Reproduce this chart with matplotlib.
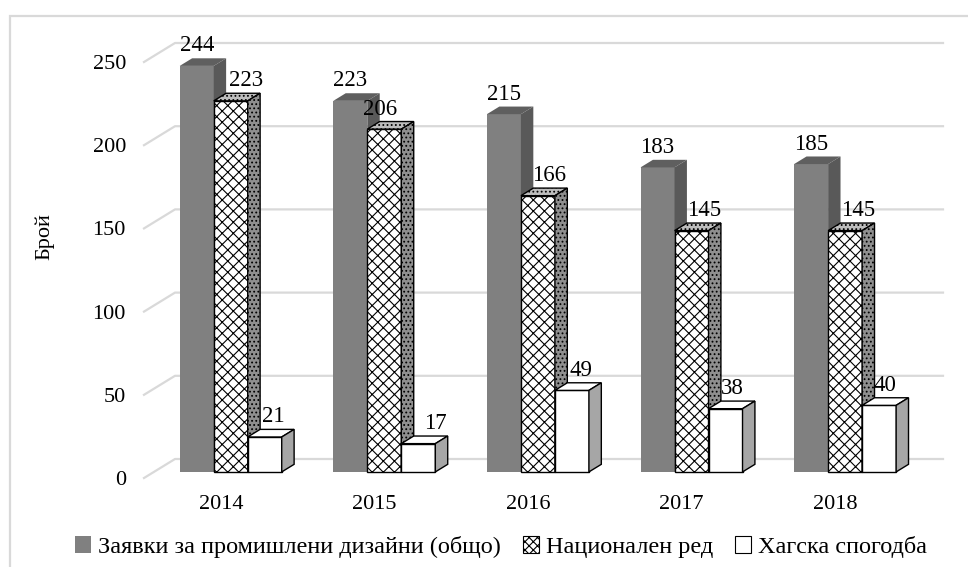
import matplotlib
matplotlib.use("Agg")
import matplotlib.pyplot as plt
from matplotlib.patches import Patch, Polygon, Rectangle
import numpy as np

years = ["2014", "2015", "2016", "2017", "2018"]
total = [244, 223, 215, 183, 185]
national = [223, 206, 166, 145, 145]
hague = [21, 17, 49, 38, 40]
series_names = [
    "Заявки за промишлени дизайни (общо)",
    "Национален ред",
    "Хагска спогодба",
]
y_ticks = [0, 50, 100, 150, 200, 250]

# label nudges in pixels (hand placed in the original)
label_dx = [
    [0, 0, 0, 0, 0],
    [15, -4, 11, 13, 13],
    [9, 17, 9, 7, 6],
]

FONT = "Liberation Serif"
W, H = 968, 567
PX_PER_CAT = 153.6
PX_PER_UNIT = 1.664

# oblique depth of the walls, in data units
WALL_DX = 31 / PX_PER_CAT
WALL_DY = 19 / PX_PER_UNIT
F0, FD = 0.32, 0.40  # bar front depth, bar thickness (fraction of wall)
BAR_W = 34 / PX_PER_CAT

styles = [
    dict(front="#808080", top="#5f5f5f", side="#595959", edge="none", hatch=None, side_hatch=None),
    dict(front="white", top="#bdbdbd", side="#8f8f8f", edge="black", hatch="xxx", side_hatch="...."),
    dict(front="white", top="white", side="#a6a6a6", edge="black", hatch=None, side_hatch=None),
]

plt.rcParams["font.family"] = [FONT, "DejaVu Sans"]
plt.rcParams["hatch.linewidth"] = 0.8

fig = plt.figure(figsize=(W / 100, H / 100), dpi=100)
ax = fig.add_axes([144 / W, 1 - 478 / H, 768 / W, 416 / H])
ax.set_xlim(-0.5, 4.5)
ax.set_ylim(0, 250)
for s in ax.spines.values():
    s.set_visible(False)

# 3d gridlines: diagonal on the left wall, horizontal on the back wall
for v in y_ticks:
    ax.plot([-0.5, -0.5 + WALL_DX, 4.5 + WALL_DX], [v, v + WALL_DY, v + WALL_DY],
            color="#d9d9d9", lw=1.6, zorder=0, clip_on=False)

x = np.arange(len(years))
base = F0 * WALL_DY
ddx, ddy = FD * WALL_DX, FD * WALL_DY
group_left = x - 1.5 * BAR_W + F0 * WALL_DX

z = 2
for k, (vals, st) in enumerate(zip([total, national, hague], styles)):
    lefts = group_left + k * BAR_W
    for i, v in enumerate(vals):
        l, r = lefts[i], lefts[i] + BAR_W
        t = v + base
        lw = 1.0 if st["edge"] != "none" else 0
        ax.bar(l, v, width=BAR_W, bottom=base, align="edge", color=st["front"],
               edgecolor=st["edge"], hatch=st["hatch"], lw=lw, zorder=z, clip_on=False)
        top = Polygon([(l, t), (r, t), (r + ddx, t + ddy), (l + ddx, t + ddy)],
                      facecolor=st["top"], edgecolor=st["edge"], hatch=st["side_hatch"],
                      lw=lw, zorder=z, clip_on=False)
        side = Polygon([(r, base), (r + ddx, base + ddy), (r + ddx, t + ddy), (r, t)],
                       facecolor=st["side"], edgecolor=st["edge"], hatch=st["side_hatch"],
                       lw=lw, zorder=z, clip_on=False)
        ax.add_patch(top)
        ax.add_patch(side)
        ax.text(l + BAR_W / 2 + label_dx[k][i] / PX_PER_CAT, t + 20 / PX_PER_UNIT, str(v),
                ha="center", va="center", fontsize=16.5, zorder=100)
        z += 1

ax.set_yticks(y_ticks)
ax.set_xticks(x)
ax.set_xticklabels(years)
ax.tick_params(axis="y", length=0, pad=13, labelsize=16)
ax.tick_params(axis="x", length=0, pad=12, labelsize=16)

fig.text(45 / W, 1 - 237 / H, "Брой", rotation=90, ha="center", va="center", fontsize=16)

handles = [
    Patch(facecolor="#808080", edgecolor="none"),
    Patch(facecolor="white", edgecolor="black", hatch="xxxx", lw=0.8),
    Patch(facecolor="white", edgecolor="black", lw=0.8),
]
fig.legend(handles, series_names, loc="center", bbox_to_anchor=(501 / W, 1 - 547 / H),
           ncol=3, frameon=False, prop={"family": FONT, "size": 17.5},
           handlelength=0.65, handleheight=0.65, handletextpad=0.3, columnspacing=0.9)

# chart border (right and bottom fall outside the image)
fig.patches.append(Rectangle((10 / W, -0.1), 1.2, 1 - 16 / H + 0.1, transform=fig.transFigure,
                             fill=False, edgecolor="#d9d9d9", lw=1.6))

fig.savefig("out.png", dpi=100)
